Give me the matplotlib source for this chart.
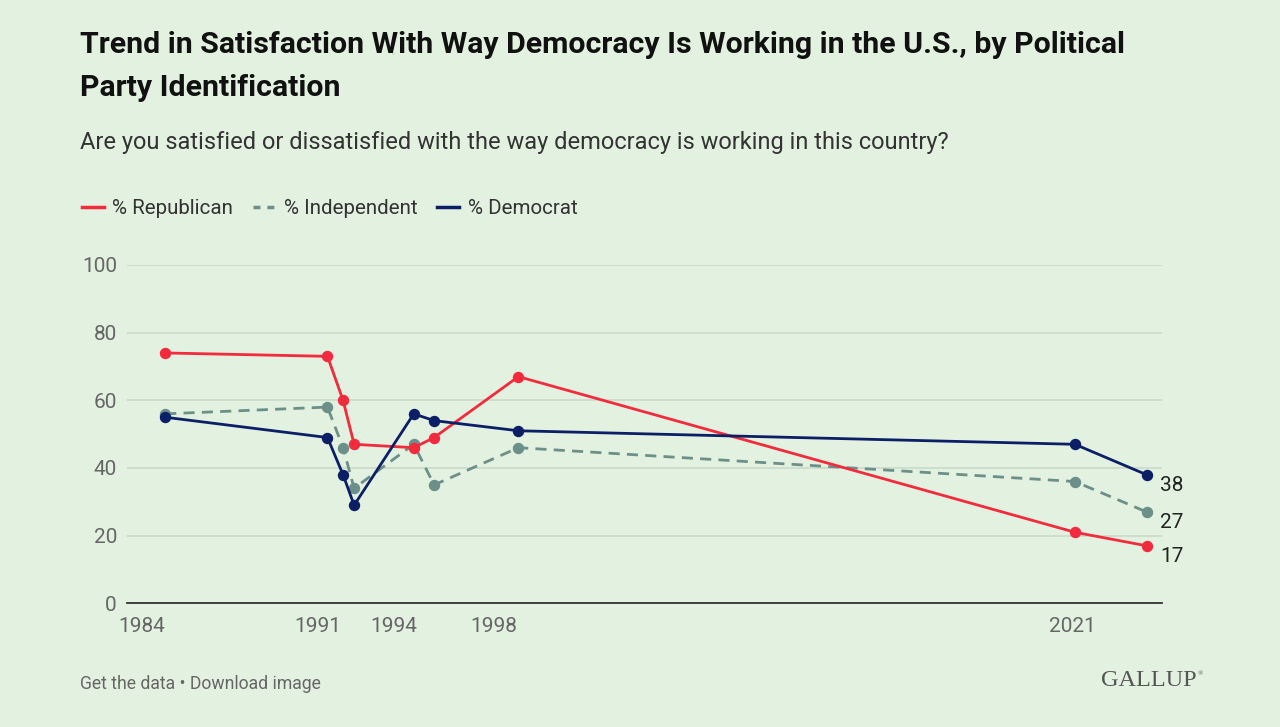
import matplotlib
matplotlib.use("Agg")
import matplotlib.pyplot as plt
from matplotlib.lines import Line2D

# ---- data ----
years = [1984.93, 1991.38, 1992.0, 1992.44, 1994.81, 1995.62, 1998.97, 2021.09, 2023.94]
republican = [74, 73, 60, 47, 46, 49, 67, 21, 17]
independent = [56, 58, 46, 34, 47, 35, 46, 36, 27]
democrat = [55, 49, 38, 29, 56, 54, 51, 47, 38]
xtick_years = [1984, 1991, 1994, 1998, 2021]
ytick_vals = [0, 20, 40, 60, 80, 100]
series_names = ["% Republican", "% Independent", "% Democrat"]

BG = "#E3F1E0"
RED = "#F42A3D"
GREY = "#6C8F8A"
NAVY = "#0C1F66"

W, H = 1280, 727
fig = plt.figure(figsize=(W / 100, H / 100), dpi=100, facecolor=BG)
plt.rcParams['font.family'] = ['Roboto', 'DejaVu Sans']

ax_left, ax_right = 126.7, 1161.7
ax_top, ax_bot = 265.0, 603.3
ax = fig.add_axes([ax_left / W, 1 - ax_bot / H, (ax_right - ax_left) / W, (ax_bot - ax_top) / H])
ax.set_facecolor(BG)
ax.set_xlim(1983.4, 2024.54)
ax.set_ylim(0, 100)

for s in ["top", "right", "left"]:
    ax.spines[s].set_visible(False)
ax.spines["bottom"].set_color("#333333")
ax.spines["bottom"].set_linewidth(1.3)

ax.set_yticks(ytick_vals)
ax.set_yticklabels([str(v) for v in ytick_vals])
ax.set_xticks(xtick_years)
ax.set_xticklabels([str(v) for v in xtick_years])
ax.tick_params(axis="both", length=0, labelsize=15, labelcolor="#666666")
ax.tick_params(axis="y", pad=7)
ax.tick_params(axis="x", pad=10)
ax.grid(axis="y", color="#CAD8C7", linewidth=1.1)
ax.set_axisbelow(True)

lw = 2.0
ms = 7.2
ax.plot(years, independent, color=GREY, lw=lw, ls=(0, (4, 2.6)), marker="o", ms=ms,
        clip_on=False, zorder=3)
ax.plot(years, republican, color=RED, lw=lw, marker="o", ms=ms, clip_on=False, zorder=4)
ax.plot(years, democrat, color=NAVY, lw=lw, marker="o", ms=ms, clip_on=False, zorder=5)

# end labels
for vals in [democrat, independent, republican]:
    ax.annotate(str(vals[-1]), xy=(years[-1], vals[-1]), xytext=(10, -1),
                textcoords="offset points", ha="left", va="top", fontsize=15,
                color="#222222", annotation_clip=False)

# title & subtitle
fig.text(80 / W, 1 - 45 / H, "Trend in Satisfaction With Way Democracy Is Working in the U.S., by Political",
         fontsize=21.8, fontweight="bold", color="#111111", ha="left", va="center")
fig.text(80 / W, 1 - 88 / H, "Party Identification",
         fontsize=21.8, fontweight="bold", color="#111111", ha="left", va="center")
fig.text(80 / W, 1 - 143 / H,
         "Are you satisfied or dissatisfied with the way democracy is working in this country?",
         fontsize=17, color="#333333", ha="left", va="center")

# legend
handles = [Line2D([], [], color=RED, lw=2.5),
           Line2D([], [], color=GREY, lw=2.5, ls=(0, (2, 2))),
           Line2D([], [], color=NAVY, lw=2.5)]
leg = fig.legend(handles, series_names, loc="center left", bbox_to_anchor=(63 / W, 1 - 209 / H),
                 ncol=3, frameon=False, fontsize=14.8, handlelength=1.1, handletextpad=0.4,
                 columnspacing=0.95, labelcolor="#333333")

# footer
fig.text(80 / W, 1 - 684 / H, "Get the data • Download image", fontsize=12.7, color="#666666",
         ha="left", va="center")
fig.text(1197 / W, 1 - 681 / H, "GALLUP", fontsize=17.5, color="#555555", ha="right", va="center",
         family=["Liberation Serif", "DejaVu Serif"])
fig.text(1198 / W, 1 - 674 / H, "®", fontsize=5, color="#555555", ha="left", va="center",
         family=["Liberation Serif", "DejaVu Serif"])

fig.savefig("out.png", dpi=100, facecolor=BG)
